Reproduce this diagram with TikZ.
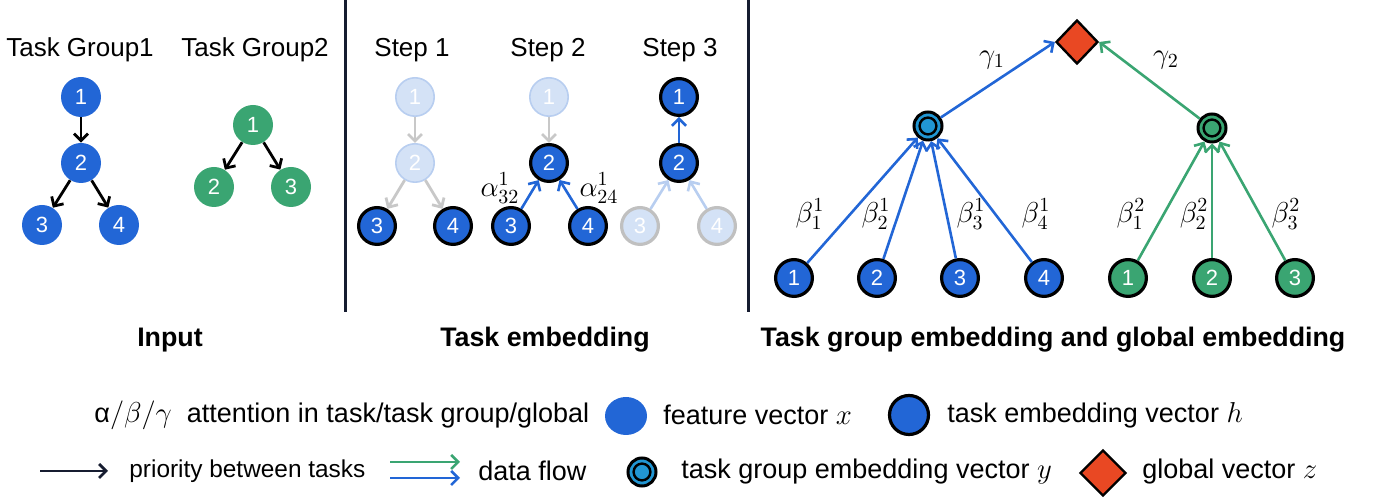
\documentclass[tikz,border=0pt]{standalone}
\usepackage{fontspec}
\setmainfont{Liberation Sans}
\definecolor{FeatBlue}{RGB}{34,102,214}
\definecolor{FlowGreen}{RGB}{58,165,114}
\definecolor{GroupBlue}{RGB}{33,150,211}
\definecolor{GlobRed}{RGB}{233,72,35}
\definecolor{FadeBlue}{RGB}{212,226,246}
\definecolor{FadeEdge}{RGB}{184,206,240}
\definecolor{FadeGray}{RGB}{192,192,192}
\definecolor{ArrowGray}{RGB}{200,200,200}
\definecolor{LineNavy}{RGB}{22,28,48}
\usetikzlibrary{arrows.meta, shapes.geometric}

\begin{document}
\begin{tikzpicture}[x=0.5pt, y=-0.5pt,
      feat/.style={circle, fill=FeatBlue, minimum size=20pt, inner sep=0pt,
                   text=white, font=\fontsize{11}{11}\selectfont},
      featg/.style={feat, fill=FlowGreen},
      embed/.style={feat, draw=black, line width=1.6pt, minimum size=18.4pt},
      embedg/.style={embed, fill=FlowGreen},
      faded/.style={feat, fill=FadeBlue, draw=FadeEdge, line width=0.8pt, minimum size=19.2pt},
      fadedgray/.style={embed, fill=FadeBlue, draw=FadeGray},
      grp/.style={circle, fill=GroupBlue, draw=black, line width=1.5pt, minimum size=14pt,
                  inner sep=0pt,
                  path picture={\draw[black, line width=1.2pt]
                    (path picture bounding box.center) circle (4.2pt);}},
      grpg/.style={grp, fill=FlowGreen},
      glob/.style={diamond, fill=GlobRed, draw=black, line width=1.2pt,
                   minimum width=21pt, minimum height=22pt, inner sep=0pt},
      tip/.style={-{Straight Barb[length=3.5pt, width=7pt]}},
      prio/.style={tip, draw=black, line width=1.4pt},
      greyarr/.style={prio, draw=ArrowGray},
      bluearr/.style={tip, draw=FeatBlue, line width=1.3pt},
      greenarr/.style={bluearr, draw=FlowGreen},
      fadearr/.style={bluearr, draw=FadeEdge},
      sep/.style={draw=LineNavy, line width=1.5pt},
      head/.style={font=\fontsize{13}{15}\selectfont},
      sect/.style={font=\fontsize{13.4}{15}\selectfont\bfseries},
      lab/.style={font=\fontsize{14}{16}\selectfont, inner sep=0pt},
      legtext/.style={anchor=west, inner sep=0pt, font=\fontsize{13.5}{15}\selectfont}
    ]
  \useasboundingbox (0,0) rectangle (1378,501);

  % separators
  \draw[sep] (345,0) -- (345,312);
  \draw[sep] (748,0) -- (748,312);

  % input
  \node[head] (tg1) at (80,50)  {Task Group1};
  \node[head] (tg2) at (255,50) {Task Group2};
  \node[feat] (a1) at (81,97)   {1};
  \node[feat] (a2) at (81,163)  {2};
  \node[feat] (a3) at (42,225)  {3};
  \node[feat] (a4) at (119,225) {4};
  \draw[prio] (a1) -- (a2);
  \draw[prio] (a2) -- (a3);
  \draw[prio] (a2) -- (a4);
  \node[featg] (c1) at (253,125) {1};
  \node[featg] (c2) at (214,187) {2};
  \node[featg] (c3) at (291,187) {3};
  \draw[prio] (c1) -- (c2);
  \draw[prio] (c1) -- (c3);
  \node[sect] (inp) at (170,340) {Input};

  % task embedding
  \node[head] (st1) at (412,50) {Step 1};
  \node[head] (st2) at (548,50) {Step 2};
  \node[head] (st3) at (680,50) {Step 3};
  \node[faded] (p1) at (415,97)  {1};
  \node[faded] (p2) at (415,163) {2};
  \node[embed] (p3) at (377,226) {3};
  \node[embed] (p4) at (453,226) {4};
  \draw[greyarr] (p1) -- (p2);
  \draw[greyarr] (p2) -- (p3);
  \draw[greyarr] (p2) -- (p4);
  \node[faded] (q1) at (549,97)  {1};
  \node[embed] (q2) at (549,163) {2};
  \node[embed] (q3) at (511,226) {3};
  \node[embed] (q4) at (588,226) {4};
  \draw[greyarr] (q1) -- (q2);
  \draw[bluearr] (q3) -- (q2);
  \draw[bluearr] (q4) -- (q2);
  \node[lab] (al1) at (500,188) {$\alpha^1_{32}$};
  \node[lab] (al2) at (599,188) {$\alpha^1_{24}$};
  \node[embed] (r1) at (679,97)  {1};
  \node[embed] (r2) at (679,163) {2};
  \node[fadedgray] (r3) at (640,226) {3};
  \node[fadedgray] (r4) at (717,226) {4};
  \draw[bluearr] (r2) -- (r1);
  \draw[fadearr] (r3) -- (r2);
  \draw[fadearr] (r4) -- (r2);
  \node[sect] (temb) at (545,340) {Task embedding};

  % task group and global embedding
  \node[glob] (z) at (1077,42) {};
  \node[grp]  (g1) at (928,126) {};
  \node[grpg] (g2) at (1212,128) {};
  \foreach \i/\x in {1/794, 2/877, 3/960, 4/1044}
    \node[embed] (b\i) at (\x,278) {\i};
  \foreach \i/\x in {1/1128, 2/1212, 3/1295}
    \node[embedg] (d\i) at (\x,278) {\i};
  \foreach \i in {1,...,4}
    \draw[bluearr] (b\i) -- (g1);
  \foreach \i in {1,...,3}
    \draw[greenarr] (d\i) -- (g2);
  \draw[bluearr] (g1) -- (z.west);
  \draw[greenarr] (g2) -- (z.east);
  \node[lab] (ga1) at (992,60) {$\gamma_1$};
  \node[lab] (ga2) at (1166,60) {$\gamma_2$};
  \node[lab] (be11) at (810,214)  {$\beta^1_1$};
  \node[lab] (be12) at (876,214)  {$\beta^1_2$};
  \node[lab] (be13) at (971,214)  {$\beta^1_3$};
  \node[lab] (be14) at (1036,214) {$\beta^1_4$};
  \node[lab] (be21) at (1131,214) {$\beta^2_1$};
  \node[lab] (be22) at (1194,214) {$\beta^2_2$};
  \node[lab] (be23) at (1286,214) {$\beta^2_3$};
  \node[sect] (gemb) at (1053,340) {Task group embedding and global embedding};

  % legend
  \node[legtext] (lg1) at (94,415) {α$/\beta/\gamma$\ \ attention in task/task group/global};
  \node[ellipse, fill=FeatBlue, minimum width=21pt, minimum height=19pt] (lf) at (626,416) {};
  \node[legtext] (lg2) at (663,415) {feature vector $x$};
  \node[embed, minimum size=19.5pt] (le) at (909,415) {};
  \node[legtext] (lg3) at (947,415) {task embedding vector $h$};
  \coordinate (k1) at (40,471);
  \coordinate (k2) at (108,471);
  \draw[prio, draw=LineNavy] (k1) -- (k2);
  \node[legtext, font=\fontsize{12.2}{14}\selectfont] (lg4) at (129,471) {priority between tasks};
  \coordinate (k3) at (390,462);
  \coordinate (k4) at (460,462);
  \coordinate (k5) at (390,478);
  \coordinate (k6) at (460,478);
  \draw[greenarr] (k3) -- (k4);
  \draw[bluearr] (k5) -- (k6);
  \node[legtext] (lg5) at (478,471) {data flow};
  \node[grp, minimum size=14pt] (lgr) at (642,472) {};
  \node[legtext] (lg6) at (681,472) {task group embedding vector $y$};
  \node[glob, minimum width=23pt, minimum height=23pt] (lz) at (1103,473) {};
  \node[legtext] (lg7) at (1142,472) {global vector $z$};
\end{tikzpicture}
\end{document}
